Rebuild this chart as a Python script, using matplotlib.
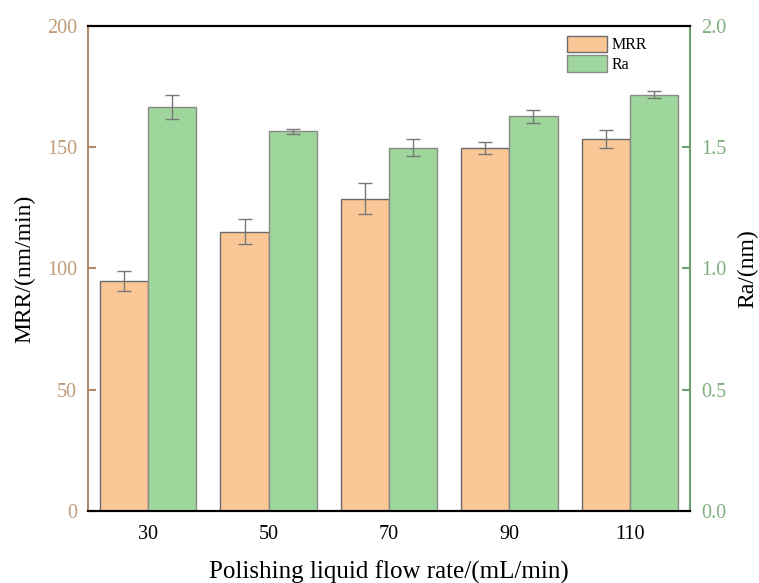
import matplotlib
matplotlib.use("Agg")
import matplotlib.pyplot as plt
import numpy as np

plt.rcParams['font.family'] = ['Liberation Serif', 'DejaVu Serif']

flow_rates = ["30", "50", "70", "90", "110"]
mrr = [94.8, 115.2, 128.8, 149.6, 153.5]
mrr_err = [4.0, 5.0, 6.5, 2.5, 3.7]
ra = [1.665, 1.566, 1.497, 1.628, 1.717]
ra_err = [0.05, 0.01, 0.035, 0.027, 0.014]

c_orange = "#FBC797"
c_green = "#9ED69C"
c_left = "#B08A68"
c_right = "#6E9E6E"
c_left_t = "#BF9B7A"
c_right_t = "#7FAF7F"

fig = plt.figure(figsize=(7.59, 5.83), dpi=100)
ax = fig.add_axes([0.116, 0.1235, 0.793, 0.832])
ax2 = ax.twinx()

x = np.arange(len(flow_rates))
w = 0.4
ax.bar(x - w/2, mrr, w, color=c_orange, edgecolor="#6a6a6a", linewidth=1.0,
       yerr=mrr_err, capsize=5, error_kw=dict(ecolor="#777777", elinewidth=1, capthick=1),
       label="MRR", zorder=2)
ax2.bar(x + w/2, ra, w, color=c_green, edgecolor="#8a8a8a", linewidth=1.0,
        yerr=ra_err, capsize=5, error_kw=dict(ecolor="#777777", elinewidth=1, capthick=1),
        label="Ra", zorder=2)

ax.set_xlim(-0.5, 4.5)
ax.set_ylim(0, 200)
ax2.set_ylim(0, 2.0)
ax.set_yticks([0, 50, 100, 150, 200])
ax2.set_yticks([0.0, 0.5, 1.0, 1.5, 2.0])
ax2.set_yticklabels(["0.0", "0.5", "1.0", "1.5", "2.0"])
ax.set_xticks(x)
ax.set_xticklabels(flow_rates)

for a in (ax, ax2):
    a.spines['top'].set_color('black')
    a.spines['bottom'].set_color('black')
    a.spines['top'].set_linewidth(1.5)
    a.spines['bottom'].set_linewidth(1.5)
ax.spines['left'].set_color(c_left)
ax.spines['left'].set_linewidth(1.5)
ax2.spines['right'].set_color(c_right)
ax2.spines['right'].set_linewidth(1.5)
ax2.spines['left'].set_visible(False)
ax.spines['right'].set_visible(False)

ax.tick_params(axis='y', direction='in', colors=c_left, labelcolor=c_left_t, labelsize=14.5, length=6, width=1.5, pad=8)
ax2.tick_params(axis='y', direction='in', colors=c_right, labelcolor=c_right_t, labelsize=14.5, length=6, width=1.5, pad=8)
ax.tick_params(axis='x', direction='in', colors='black', labelsize=14.5, length=5, width=1.5, pad=10)

ax.set_xlabel("Polishing liquid flow rate/(mL/min)", fontsize=18, labelpad=12)
ax.set_ylabel("MRR/(nm/min)", fontsize=17, labelpad=8)
ax2.set_ylabel("Ra/(nm)", fontsize=17, labelpad=8)

h1, l1 = ax.get_legend_handles_labels()
h2, l2 = ax2.get_legend_handles_labels()
leg = ax2.legend(h1 + h2, l1 + l2, loc='upper left', bbox_to_anchor=(0.78, 1.0),
                 frameon=False, fontsize=11.5, handlelength=2.5, handleheight=1.2,
                 labelspacing=0.15, handletextpad=0.3, borderaxespad=0.2)

fig.savefig("out.png", dpi=100)
